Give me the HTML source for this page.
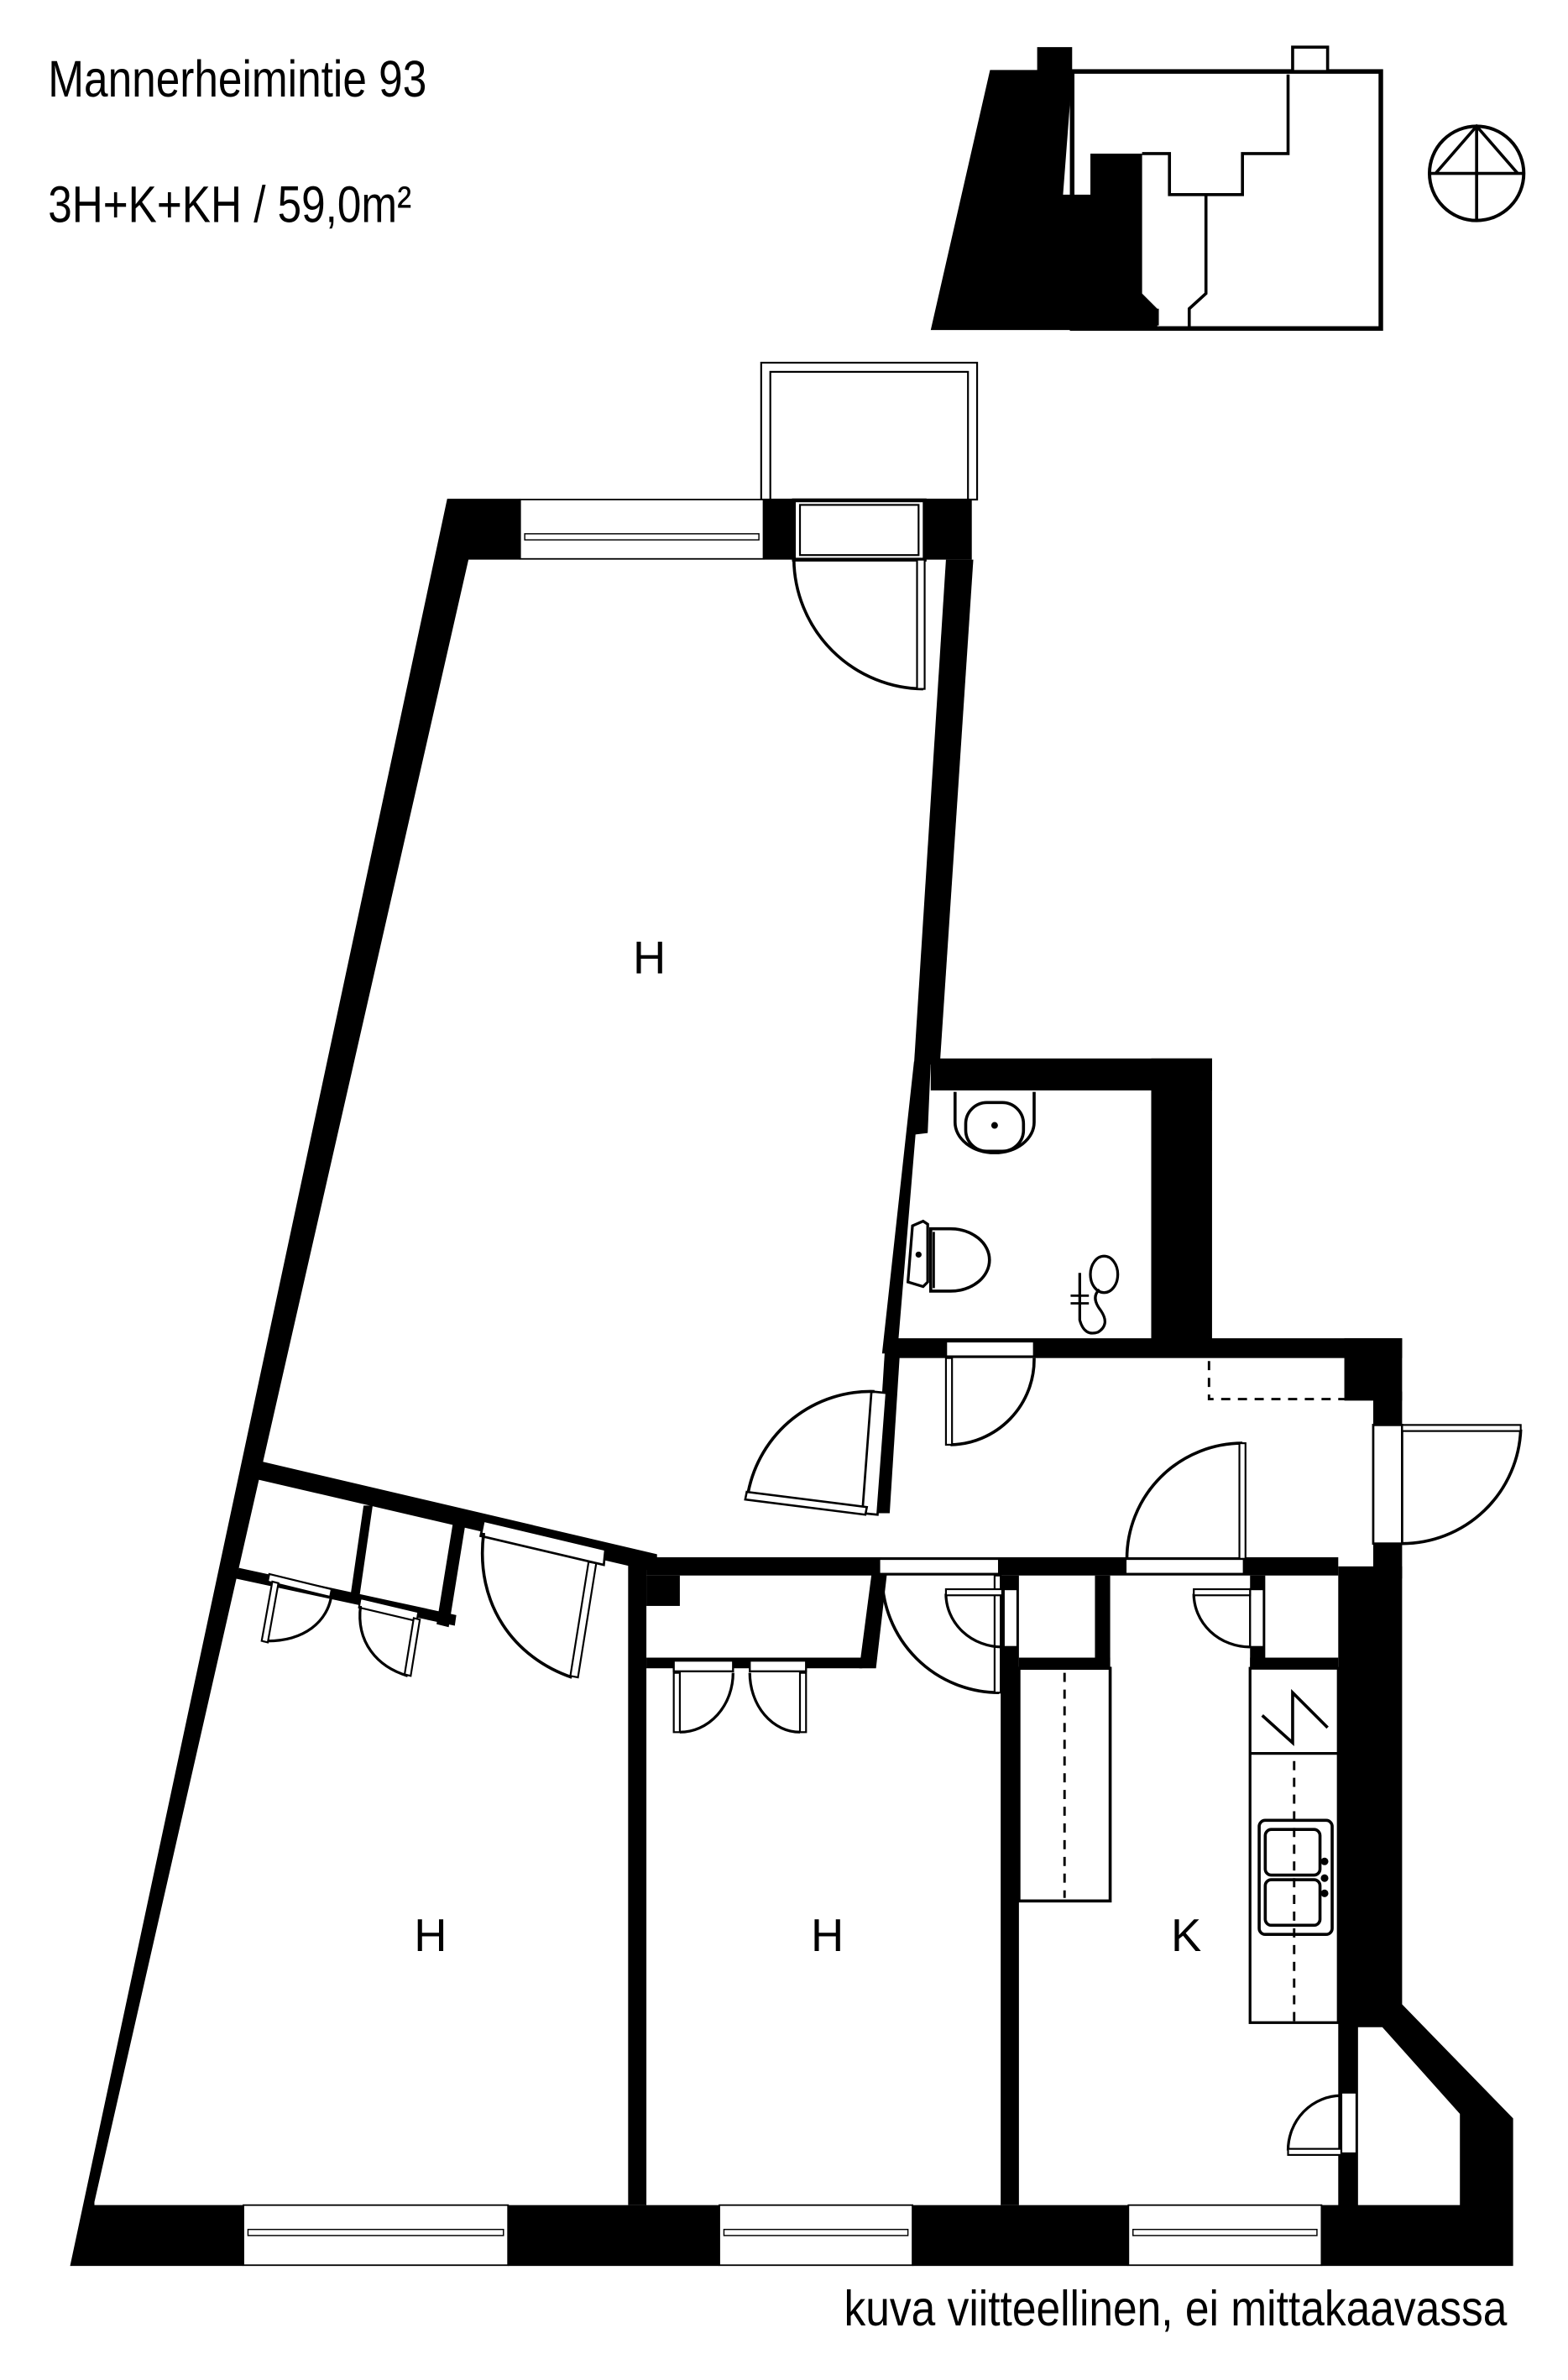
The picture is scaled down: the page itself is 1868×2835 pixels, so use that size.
<!DOCTYPE html>
<html><head><meta charset="utf-8"><style>
html,body{margin:0;padding:0;background:#fff;}
svg{display:block;}
text{font-family:"Liberation Sans",sans-serif;fill:#000;}
</style></head><body>
<svg width="1868" height="2835" viewBox="0 0 1031 1565" xmlns="http://www.w3.org/2000/svg">
<rect x="0" y="0" width="1031" height="1565" fill="#fff"/>
<!-- titles -->
<text x="31.5" y="63.5" font-size="34" textLength="249" lengthAdjust="spacingAndGlyphs">Mannerheimintie 93</text>
<text x="31.5" y="146" font-size="34" textLength="239" lengthAdjust="spacingAndGlyphs">3H+K+KH / 59,0m²</text>
<text x="555" y="1529" font-size="33" textLength="436" lengthAdjust="spacingAndGlyphs">kuva viitteellinen, ei mittakaavassa</text>

<!-- key plan -->
<g>
<polygon points="612,217 651,46 682,46 682,31 705,31 705,49 699,128 717,128 717,101 751,101 751,193 761,203 761,217" fill="#000"/>
<rect x="705" y="47" width="203" height="169" fill="none" stroke="#000" stroke-width="3"/>
<rect x="850" y="31" width="23" height="16" fill="#fff" stroke="#000" stroke-width="2"/>
<polyline points="751,101 769,101 769,128 817,128 817,101 847,101 847,49" fill="none" stroke="#000" stroke-width="2"/>
<polyline points="793,128 793,193 782,203 782,216" fill="none" stroke="#000" stroke-width="2"/>
<polyline points="761,214 761,203" fill="none" stroke="#000" stroke-width="2"/>
<circle cx="971" cy="114" r="31" fill="none" stroke="#000" stroke-width="2.2"/>
<line x1="940" y1="114" x2="1002" y2="114" stroke="#000" stroke-width="2"/>
<line x1="971" y1="83" x2="971" y2="145" stroke="#000" stroke-width="2"/>
<polyline points="944,114 971,83 998,114" fill="none" stroke="#000" stroke-width="2"/>
</g>

<!-- balcony -->
<rect x="500.5" y="238.5" width="142" height="90" fill="none" stroke="#000" stroke-width="1.2"/>
<rect x="506.5" y="244.5" width="130" height="84" fill="none" stroke="#000" stroke-width="1.2"/>

<g fill="#000">
<!-- top wall blocks + left wall -->
<polygon points="294,328 342,328 342,368 308,368 62,1448 62,1450 160,1450 160,1490 46,1490"/>
<rect x="502" y="328" width="20" height="40"/>
<rect x="608" y="328" width="31" height="40"/>
<!-- right wall of big room -->
<polygon points="622,368 640,368 618,700 601,700"/>
<polygon points="601,698 612,698 610,745 602,746 590,890 580,890"/>
<!-- bathroom walls -->
<rect x="612" y="696" width="185" height="21"/>
<rect x="757" y="696" width="40" height="192"/>
<!-- hall top wall -->
<rect x="583" y="880" width="339" height="13"/>
<!-- hall right wall -->
<rect x="884" y="880" width="38" height="41"/>
<rect x="903" y="915" width="19" height="22"/>
<rect x="903" y="1013" width="19" height="25"/>
<!-- hall / big room wall lower -->
<polygon points="582,885 592,885 585,995 575,995"/>
<polygon points="574,1028 584,1028 576,1097 565,1097"/>
<!-- horizontal wall under hall -->
<rect x="425" y="1024" width="155" height="12"/>
<rect x="578" y="1024" width="302" height="12"/>
<!-- kitchen right wall -->
<rect x="880" y="1030" width="42" height="292"/>
<polygon points="880,1318 922,1318 995,1393 995,1490 869,1490 869,1450 960,1450 960,1390 909,1333 893,1333 893,1450 880,1450"/>
<!-- bottom wall blocks -->
<rect x="334" y="1450" width="139" height="40"/>
<rect x="600" y="1450" width="142" height="40"/>
<!-- partitions -->
<rect x="413" y="1028" width="12" height="422"/>
<rect x="658" y="1036" width="12" height="414"/>
<rect x="425" y="1036" width="22" height="20"/>
<!-- H2 closet bottom wall -->
<rect x="425" y="1090" width="142" height="7"/>
<!-- kitchen closets -->
<rect x="720" y="1036" width="10" height="60"/>
<rect x="670" y="1090" width="60" height="7"/>
<rect x="822" y="1036" width="10" height="60"/>
<rect x="822" y="1090" width="58" height="7"/>
<!-- diagonal closet walls -->
<polygon points="172,961 432,1022 432,1034 170,973"/>
<polygon points="157,1031 300,1062 299,1069 155,1038"/>
<polygon points="239,990 245,990 236,1052 230,1052"/>
<polygon points="298,1000 306,1002 295,1070 287,1068"/>
</g>

<!-- top window -->
<rect x="342" y="328.5" width="160" height="39" fill="#fff" stroke="#000" stroke-width="1"/>
<rect x="345" y="351" width="154" height="4" fill="none" stroke="#000" stroke-width="0.8"/>
<!-- bottom windows -->
<g fill="#fff" stroke="#000" stroke-width="1">
<rect x="160" y="1450" width="174" height="39.5"/>
<rect x="473" y="1450" width="127" height="39.5"/>
<rect x="742" y="1450" width="127" height="39.5"/>
</g>
<g fill="none" stroke="#000" stroke-width="0.8">
<rect x="163" y="1466" width="168" height="4"/>
<rect x="476" y="1466" width="121" height="4"/>
<rect x="745" y="1466" width="121" height="4"/>
</g>

<!-- balcony door -->
<rect x="522" y="329" width="86" height="39" fill="#fff" stroke="#000" stroke-width="2.5"/>
<rect x="526" y="332" width="78" height="33" fill="none" stroke="#000" stroke-width="1.2"/>
<path d="M522,368 A86,86 0 0 0 607,453" fill="none" stroke="#000" stroke-width="2"/>
<rect x="603" y="368" width="5" height="85" fill="#fff" stroke="#000" stroke-width="1.2"/>

<!-- big room -> hall door -->
<polygon points="573,915 583,916 577,996 567,995" fill="#fff" stroke="#000" stroke-width="1.5"/>
<path d="M492,981 A82,82 0 0 1 575,915" fill="none" stroke="#000" stroke-width="2"/>
<polygon points="491,981 570,991 569,996 490,986" fill="#fff" stroke="#000" stroke-width="1.4"/>

<!-- bathroom door -->
<rect x="622" y="882" width="58" height="10" fill="#fff" stroke="#000" stroke-width="1.5"/>
<path d="M625,950 A56,56 0 0 0 680,893" fill="none" stroke="#000" stroke-width="2"/>
<rect x="622" y="893" width="4" height="57" fill="#fff" stroke="#000" stroke-width="1.2"/>

<!-- hall dashed -->
<polyline points="795,895 795,920 884,920" fill="none" stroke="#000" stroke-width="1.6" stroke-dasharray="6,5"/>

<!-- hall -> kitchen door -->
<rect x="740" y="1025" width="78" height="10" fill="#fff" stroke="#000" stroke-width="1.5"/>
<path d="M741,1025 A76,76 0 0 1 817,949" fill="none" stroke="#000" stroke-width="2"/>
<rect x="815" y="949" width="4" height="76" fill="#fff" stroke="#000" stroke-width="1.2"/>

<!-- entrance door -->
<rect x="903" y="937" width="19" height="78" fill="#fff" stroke="#000" stroke-width="1.5"/>
<path d="M1000,940 A78,78 0 0 1 922,1015" fill="none" stroke="#000" stroke-width="2"/>
<rect x="922" y="937" width="78" height="4" fill="#fff" stroke="#000" stroke-width="1.2"/>

<!-- H2 door -->
<rect x="578" y="1025" width="79" height="10" fill="#fff" stroke="#000" stroke-width="1.5"/>
<path d="M580,1036 A77,77 0 0 0 657,1113" fill="none" stroke="#000" stroke-width="2"/>
<rect x="654" y="1036" width="4" height="77" fill="#fff" stroke="#000" stroke-width="1.2"/>
<!-- small closet door (hall side) -->
<rect x="660" y="1045" width="9" height="38" fill="#fff" stroke="#000" stroke-width="1.3"/>
<path d="M622,1048 A37,35 0 0 0 659,1083" fill="none" stroke="#000" stroke-width="1.8"/>
<rect x="622" y="1045" width="37" height="4" fill="#fff" stroke="#000" stroke-width="1.2"/>
<!-- kitchen closet door -->
<rect x="822" y="1045" width="9" height="38" fill="#fff" stroke="#000" stroke-width="1.3"/>
<path d="M785,1048 A37,35 0 0 0 822,1083" fill="none" stroke="#000" stroke-width="1.8"/>
<rect x="785" y="1045" width="37" height="4" fill="#fff" stroke="#000" stroke-width="1.2"/>

<!-- kitchen cabinets -->
<rect x="670" y="1097" width="60" height="153" fill="#fff" stroke="#000" stroke-width="2"/>
<line x1="700" y1="1100" x2="700" y2="1248" stroke="#000" stroke-width="1.6" stroke-dasharray="6,5"/>
<rect x="822" y="1097" width="58" height="233" fill="#fff" stroke="#000" stroke-width="1.8"/>
<line x1="822" y1="1153" x2="880" y2="1153" stroke="#000" stroke-width="1.8"/>
<polyline points="830,1128 850,1146 850,1113 873,1136" fill="none" stroke="#000" stroke-width="2"/>
<line x1="851" y1="1158" x2="851" y2="1330" stroke="#000" stroke-width="1.6" stroke-dasharray="6,5"/>
<rect x="828" y="1197" width="48" height="75" rx="4" fill="none" stroke="#000" stroke-width="2"/>
<rect x="832" y="1203" width="36" height="30" rx="4" fill="none" stroke="#000" stroke-width="2"/>
<rect x="832" y="1236" width="36" height="30" rx="4" fill="none" stroke="#000" stroke-width="2"/>
<circle cx="871" cy="1224" r="2.5"/><circle cx="871" cy="1235" r="2.5"/><circle cx="871" cy="1245" r="2.5"/>

<!-- kitchen small door bottom right -->
<rect x="882" y="1376" width="10" height="40" fill="#fff" stroke="#000" stroke-width="1.3"/>
<path d="M847,1414 A35,36 0 0 1 882,1378" fill="none" stroke="#000" stroke-width="1.8"/>
<rect x="847" y="1413" width="35" height="4" fill="#fff" stroke="#000" stroke-width="1.2"/>

<!-- H2 closet doors -->
<rect x="443" y="1092" width="39" height="7" fill="#fff" stroke="#000" stroke-width="1.3"/>
<rect x="493" y="1092" width="37" height="7" fill="#fff" stroke="#000" stroke-width="1.3"/>
<path d="M447,1139 A35,39 0 0 0 482,1100" fill="none" stroke="#000" stroke-width="1.8"/>
<rect x="443" y="1100" width="4" height="39" fill="#fff" stroke="#000" stroke-width="1.2"/>
<path d="M493,1100 A33,39 0 0 0 526,1139" fill="none" stroke="#000" stroke-width="1.8"/>
<rect x="526" y="1100" width="4" height="39" fill="#fff" stroke="#000" stroke-width="1.2"/>

<!-- big closet door (H1) -->
<polygon points="318,1000 398,1019 397,1029 316,1010" fill="#fff" stroke="#000" stroke-width="1.5"/>
<path d="M318,1008 C312,1055 338,1090 376,1103" fill="none" stroke="#000" stroke-width="2"/>
<polygon points="387,1027 392,1028 380,1103 375,1102" fill="#fff" stroke="#000" stroke-width="1.2"/>

<!-- small closet doors (H1) -->
<polygon points="177,1035 218,1045 217,1050 176,1040" fill="#fff" stroke="#000" stroke-width="1.2"/>
<path d="M173,1079 C200,1080 216,1066 218,1048" fill="none" stroke="#000" stroke-width="1.8"/>
<polygon points="179,1040 183,1041 176,1080 172,1079" fill="#fff" stroke="#000" stroke-width="1.2"/>
<polygon points="237,1051 275,1060 274,1066 236,1057" fill="#fff" stroke="#000" stroke-width="1.2"/>
<path d="M237,1056 C234,1080 248,1096 268,1102" fill="none" stroke="#000" stroke-width="1.8"/>
<polygon points="272,1064 276,1065 270,1102 266,1101" fill="#fff" stroke="#000" stroke-width="1.2"/>

<!-- bathroom fixtures -->
<path d="M628,718 L628,738 A26,20 0 0 0 680,738 L680,718" fill="none" stroke="#000" stroke-width="2"/>
<rect x="635" y="725" width="38" height="32" rx="14" fill="none" stroke="#000" stroke-width="2"/>
<circle cx="654" cy="740" r="2.2"/>
<path d="M600,806 L607,803 L610,805 L610,843 L607,846 L597,843 Z" fill="#fff" stroke="#000" stroke-width="1.8"/>
<path d="M612,808 L625,808 A25,20 0 0 1 625,849 L612,849 Z" fill="none" stroke="#000" stroke-width="2"/>
<line x1="614" y1="810" x2="614" y2="847" stroke="#000" stroke-width="1.5"/>
<circle cx="604" cy="825" r="2"/>
<path d="M710,837 L710,868 Q713,879 722,876 Q730,871 724,862 Q717,853 723,848" fill="none" stroke="#000" stroke-width="1.8"/>
<ellipse cx="726" cy="838" rx="9" ry="12" fill="none" stroke="#000" stroke-width="1.8"/>
<line x1="704" y1="852" x2="716" y2="852" stroke="#000" stroke-width="1.5"/>
<line x1="704" y1="857" x2="716" y2="857" stroke="#000" stroke-width="1.5"/>

<!-- labels -->
<text x="427" y="640" font-size="30" text-anchor="middle">H</text>
<text x="283" y="1283" font-size="30" text-anchor="middle">H</text>
<text x="544" y="1283" font-size="30" text-anchor="middle">H</text>
<text x="780" y="1283" font-size="30" text-anchor="middle">K</text>
</svg>
</body></html>
